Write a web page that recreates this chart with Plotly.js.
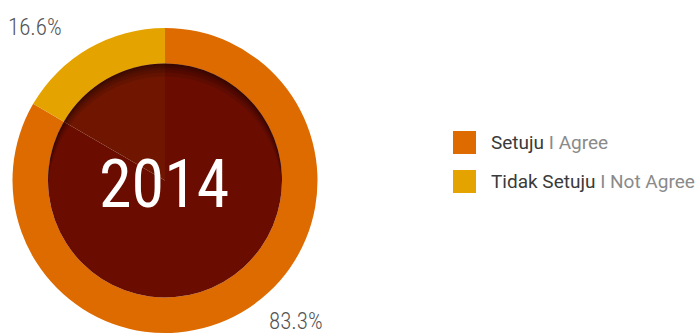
<!DOCTYPE html>
<html>
<head>
<meta charset="utf-8">
<script src="https://cdn.plot.ly/plotly-3.0.1.min.js"></script>
<style>html,body{margin:0;padding:0;background:#fff;}#chart{width:700px;height:336px;}</style>
</head>
<body>
<div id="chart"></div>
<script>
// Data
const labelsId = ["Setuju", "Tidak Setuju"];
const labelsEn = ["I Agree", "I Not Agree"];
const values = [83.3, 16.6];
const ringColors = ["#DE6B00", "#E5A300"];
const innerColors = ["#6A0D00", "#701600"];
const yearLabel = "2014";

const W = 700, H = 336;
const cx = 165, cy = 180.5, R = 152.5, r = 117;
function px(x){ return x / W; }
function py(y){ return (H - y) / H; }

const outer = {
  type: "pie", values: values, labels: labelsId, sort: false, direction: "clockwise", rotation: 0,
  hole: r / R, marker: {colors: ringColors, line: {width: 0}}, textinfo: "none", hoverinfo: "none",
  showlegend: false,
  domain: {x: [px(cx - R), px(cx + R)], y: [py(cy + R), py(cy - R)]}
};
const inner = {
  type: "pie", values: values, labels: labelsId, sort: false, direction: "clockwise", rotation: 0,
  marker: {colors: innerColors, line: {width: 0}}, textinfo: "none", hoverinfo: "none",
  showlegend: false,
  domain: {x: [px(cx - r), px(cx + r)], y: [py(cy + r), py(cy - r)]}
};

const condensed = "Roboto Condensed, Liberation Sans Narrow, sans-serif";
const pctFont = {family: condensed, size: 23, color: "#555555", weight: 300};
const annotations = [
  {xref: "paper", yref: "paper", x: px(cx - 1), y: py(cy + 4), text: yearLabel, showarrow: false,
   font: {family: condensed, size: 66, color: "#ffffff"}, xanchor: "center", yanchor: "middle"},
  {xref: "paper", yref: "paper", x: px(6), y: py(27), text: values[1].toFixed(1) + "%", showarrow: false,
   font: pctFont, xanchor: "left", yanchor: "middle"},
  {xref: "paper", yref: "paper", x: px(267), y: py(321), text: values[0].toFixed(1) + "%", showarrow: false,
   font: pctFont, xanchor: "left", yanchor: "middle"}
];

// decorative inner shadow (crescents at the top of the inner disc)
const shapes = [];
[2, 4, 6, 9, 13].forEach(d => {
  const pts = [];
  const N = 60;
  const a0 = Math.asin((d / 2) / r);
  for (let k = 0; k <= N; k++) {
    const t = Math.PI + a0 - (Math.PI + 2 * a0) * k / N;
    pts.push([cx + r * Math.cos(t), cy - r * Math.sin(t)]);
  }
  for (let k = 0; k <= N; k++) {
    const t = -a0 + (Math.PI + 2 * a0) * k / N;
    pts.push([cx + r * Math.cos(t), cy + d - r * Math.sin(t)]);
  }
  const path = "M" + pts.map(p => px(p[0]).toFixed(5) + "," + py(p[1]).toFixed(5)).join("L") + "Z";
  shapes.push({type: "path", xref: "paper", yref: "paper", path: path,
    fillcolor: "rgba(0,0,0,0.11)", line: {width: 0}, layer: "above"});
});

// legend
const legTop = 131, legStep = 39, sw = 23, legX = 453;
labelsId.forEach((lab, i) => {
  const y0 = legTop + i * legStep;
  shapes.push({type: "rect", xref: "paper", yref: "paper", x0: px(legX), x1: px(legX + sw),
    y0: py(y0 + sw), y1: py(y0), fillcolor: ringColors[i], line: {width: 0}});
  annotations.push({xref: "paper", yref: "paper", x: px(489), y: py(y0 + sw / 2), showarrow: false,
    xanchor: "left", yanchor: "middle",
    text: lab + " <span style='color:#8a8a8a'>" + labelsEn[i] + "</span>",
    font: {family: "Roboto, Liberation Sans, Arial, sans-serif", size: 19, color: "#3a3a3a"}});
});

const layout = {
  width: W, height: H, margin: {l: 0, r: 0, t: 0, b: 0},
  paper_bgcolor: "#ffffff", plot_bgcolor: "#ffffff",
  showlegend: false, annotations: annotations, shapes: shapes
};
Plotly.newPlot("chart", [outer, inner], layout, {displayModeBar: false, staticPlot: true});
</script>
</body>
</html>
